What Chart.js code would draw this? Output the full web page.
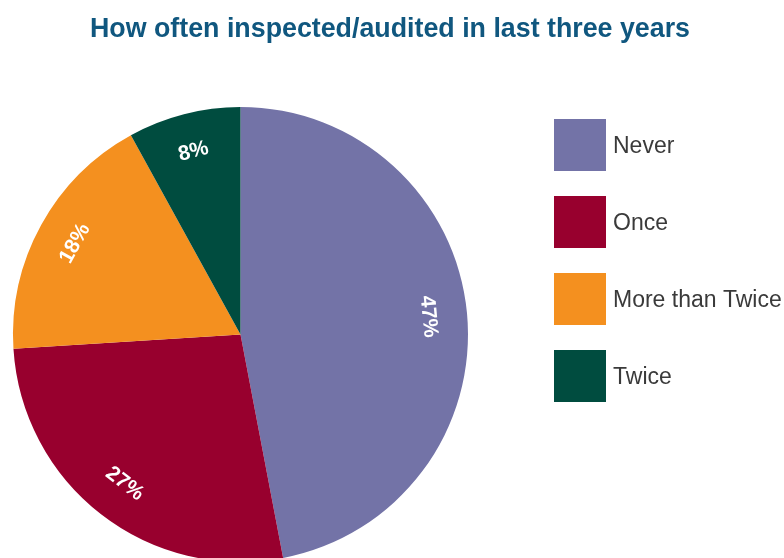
<!DOCTYPE html>
<html>
<head>
<meta charset="utf-8">
<script src="https://cdn.jsdelivr.net/npm/chart.js@4/dist/chart.umd.min.js"></script>
<style>
    html, body { margin: 0; padding: 0; background: #fff; overflow: hidden; }
    #wrap { position: relative; width: 784px; height: 600px; }
</style>
</head>
<body>
<div id="wrap"><canvas id="auditChart" width="784" height="600"></canvas></div>
<script>
// Survey answers
const categories = ['Never', 'Once', 'More than Twice', 'Twice'];
const shares = [47, 27, 18, 8];
const sliceColors = ['#7373A7', '#98002E', '#F4901F', '#004C3F'];
const chartTitle = 'How often inspected/audited in last three years';

// Percent labels written along each slice, turned so they stay readable
const sliceLabels = {
    id: 'sliceLabels',
    afterDatasetsDraw(chart) {
        const ctx = chart.ctx;
        const arcs = chart.getDatasetMeta(0).data;
        ctx.save();
        ctx.fillStyle = '#ffffff';
        ctx.font = 'bold 21px "Liberation Sans", Arial, sans-serif';
        ctx.textAlign = 'center';
        ctx.textBaseline = 'middle';
        arcs.forEach((arc, i) => {
            const p = arc.getProps(['x', 'y', 'startAngle', 'endAngle', 'outerRadius'], true);
            const mid = (p.startAngle + p.endAngle) / 2;
            const r = p.outerRadius * 0.83;
            let rot = mid + Math.PI / 2;
            let norm = ((rot % (2 * Math.PI)) + 2 * Math.PI) % (2 * Math.PI);
            if (norm > Math.PI / 2 && norm < Math.PI * 1.5) rot += Math.PI;
            ctx.save();
            ctx.translate(p.x + Math.cos(mid) * r, p.y + Math.sin(mid) * r);
            ctx.rotate(rot);
            ctx.fillText(shares[i] + '%', 0, 0);
            ctx.restore();
        });
        ctx.restore();
    }
};

// Title and square legend on the right
const frame = {
    id: 'frame',
    afterDraw(chart) {
        const ctx = chart.ctx;
        ctx.save();
        ctx.fillStyle = '#10577F';
        ctx.font = 'bold 28px "Liberation Sans", Arial, sans-serif';
        ctx.textAlign = 'center';
        ctx.textBaseline = 'alphabetic';
        // condensed look: squeeze the title to 600px wide
        const w = ctx.measureText(chartTitle).width;
        ctx.translate(390, 37);
        ctx.scale(600 / w, 1);
        ctx.fillText(chartTitle, 0, 0);
        ctx.setTransform(1, 0, 0, 1, 0, 0);

        ctx.font = '23px "Liberation Sans", Arial, sans-serif';
        ctx.textAlign = 'left';
        ctx.textBaseline = 'middle';
        categories.forEach((name, i) => {
            const top = 119 + i * 77;
            ctx.fillStyle = sliceColors[i];
            ctx.fillRect(554, top, 52, 52);
            ctx.fillStyle = '#3a3a3a';
            ctx.fillText(name, 613, top + 28);
        });
        ctx.restore();
    }
};

new Chart(document.getElementById('auditChart'), {
    type: 'pie',
    data: {
        labels: categories,
        datasets: [{
            data: shares,
            backgroundColor: sliceColors,
            borderWidth: 0
        }]
    },
    options: {
        responsive: false,
        animation: false,
        layout: { padding: { left: 13, top: 107, right: 316, bottom: 38 } },
        plugins: {
            legend: { display: false },
            title: { display: false },
            tooltip: { enabled: false }
        }
    },
    plugins: [sliceLabels, frame]
});
</script>
</body>
</html>
